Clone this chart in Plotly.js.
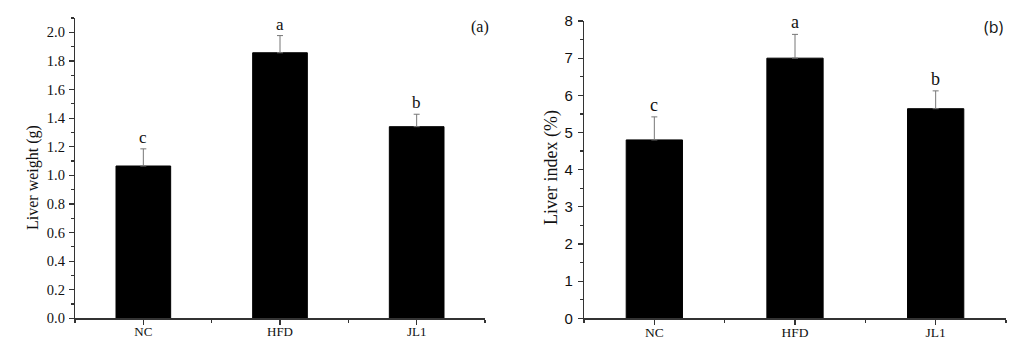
<!DOCTYPE html>
<html>
<head>
<meta charset="utf-8">
<script src="https://cdn.plot.ly/plotly-3.0.1.min.js"></script>
<style>html,body{margin:0;padding:0;background:#fff;}#chart{width:1028px;height:358px;}</style>
</head>
<body>
<div id="chart"></div>
<script>
// Data
var categories = ["NC", "HFD", "JL1"];
var liverWeight = [1.065, 1.857, 1.340];
var liverWeightErr = [0.12, 0.12, 0.087];
var liverWeightLetters = ["c", "a", "b"];
var liverIndex = [4.80, 7.00, 5.64];
var liverIndexErr = [0.62, 0.64, 0.48];
var liverIndexLetters = ["c", "a", "b"];

var xIdx = categories.map(function (c, i) { return i; });
var zeros = categories.map(function () { return 0; });

var SERIF = "Liberation Serif, Times New Roman, serif";
var SANS = "Liberation Sans, Arial, sans-serif";
var TXT = "#111";

var traces = [
  {
    type: "bar", x: xIdx, y: liverWeight, xaxis: "x", yaxis: "y", width: 0.4,
    marker: {color: "#000", line: {color: "#000", width: 1}},
    error_y: {type: "data", array: liverWeightErr, arrayminus: zeros, symmetric: false,
              color: "#777", thickness: 1, width: 3},
    hoverinfo: "skip", showlegend: false
  },
  {
    type: "bar", x: xIdx, y: liverIndex, xaxis: "x2", yaxis: "y2", width: 0.4,
    marker: {color: "#000", line: {color: "#000", width: 1}},
    error_y: {type: "data", array: liverIndexErr, arrayminus: zeros, symmetric: false,
              color: "#777", thickness: 1, width: 3},
    hoverinfo: "skip", showlegend: false
  }
];

function xAxis(domain, fontSize) {
  return {
    domain: domain, range: [-0.5, 2.5], tickmode: "array", tickvals: xIdx, ticktext: categories,
    showgrid: false, zeroline: false, showline: true, linecolor: "#333", linewidth: 1.2,
    ticks: "outside", ticklen: 5, tickcolor: "#333", tickwidth: 1.2, ticklabelstandoff: -4,
    tickfont: {family: SERIF, size: fontSize, color: TXT},
    minor: {tickmode: "linear", tick0: 0.5, dtick: 1, ticks: "outside", ticklen: 3, tickcolor: "#333", tickwidth: 1.2, showgrid: false},
    automargin: false, fixedrange: true
  };
}

var layout = {
  width: 1028, height: 358,
  margin: {l: 0, r: 0, t: 0, b: 0},
  paper_bgcolor: "#fff", plot_bgcolor: "#fff",
  xaxis: xAxis([75 / 1028, 485 / 1028], 13),
  xaxis2: Object.assign(xAxis([584 / 1028, 1006 / 1028], 13.5), {anchor: "y2"}),
  yaxis: {
    domain: [39.7 / 358, 340 / 358], range: [0, 2.1], anchor: "x",
    tickmode: "linear", tick0: 0, dtick: 0.2, tickformat: ".1f",
    showgrid: false, zeroline: false, showline: true, linecolor: "#333", linewidth: 1.2,
    ticks: "outside", ticklen: 5, tickcolor: "#333", tickwidth: 1.2, ticklabelstandoff: 1,
    tickfont: {family: SERIF, size: 14.5, color: TXT},
    minor: {tickmode: "linear", tick0: 0.1, dtick: 0.2, ticks: "outside", ticklen: 3, tickcolor: "#333", tickwidth: 1.2, showgrid: false},
    automargin: false, fixedrange: true
  },
  yaxis2: {
    domain: [39.7 / 358, 337 / 358], range: [0, 8], anchor: "x2",
    tickmode: "linear", tick0: 0, dtick: 1,
    showgrid: false, zeroline: false, showline: true, linecolor: "#333", linewidth: 1.2,
    ticks: "outside", ticklen: 5, tickcolor: "#333", tickwidth: 1.2, ticklabelstandoff: 2,
    tickfont: {family: SANS, size: 15, color: TXT},
    minor: {tickmode: "linear", tick0: 0.5, dtick: 1, ticks: "outside", ticklen: 3, tickcolor: "#333", tickwidth: 1.2, showgrid: false},
    automargin: false, fixedrange: true
  },
  annotations: []
};

// Significance letters above error bars
categories.forEach(function (c, i) {
  layout.annotations.push({
    xref: "x", yref: "y", x: xIdx[i], y: liverWeight[i] + liverWeightErr[i],
    text: liverWeightLetters[i], showarrow: false, yanchor: "bottom", yshift: 0,
    font: {family: SERIF, size: 17, color: TXT}
  });
  layout.annotations.push({
    xref: "x2", yref: "y2", x: xIdx[i], y: liverIndex[i] + liverIndexErr[i],
    text: liverIndexLetters[i], showarrow: false, yanchor: "bottom", yshift: 0,
    font: {family: SERIF, size: 18, color: TXT}
  });
});

// Axis titles
layout.annotations.push({
  xref: "paper", yref: "paper", x: 33 / 1028, y: 1 - 178 / 358,
  text: "Liver weight (g)", showarrow: false, textangle: -90, xanchor: "center", yanchor: "middle",
  font: {family: SERIF, size: 16, color: TXT}
});
layout.annotations.push({
  xref: "paper", yref: "paper", x: 552 / 1028, y: 1 - 168 / 358,
  text: "Liver index (%)", showarrow: false, textangle: -90, xanchor: "center", yanchor: "middle",
  font: {family: SERIF, size: 18, color: TXT}
});

// Panel labels
layout.annotations.push({
  xref: "paper", yref: "paper", x: 491 / 1028, y: 1 - 27 / 358,
  text: "(a)", showarrow: false, xanchor: "right", yanchor: "middle",
  font: {family: SERIF, size: 16, color: TXT}
});
layout.annotations.push({
  xref: "paper", yref: "paper", x: 1006 / 1028, y: 1 - 27 / 358,
  text: "(b)", showarrow: false, xanchor: "right", yanchor: "middle",
  font: {family: "Open Sans, sans-serif", size: 16, color: TXT}
});

Plotly.newPlot("chart", traces, layout, {displayModeBar: false, staticPlot: true});
</script>
</body>
</html>
